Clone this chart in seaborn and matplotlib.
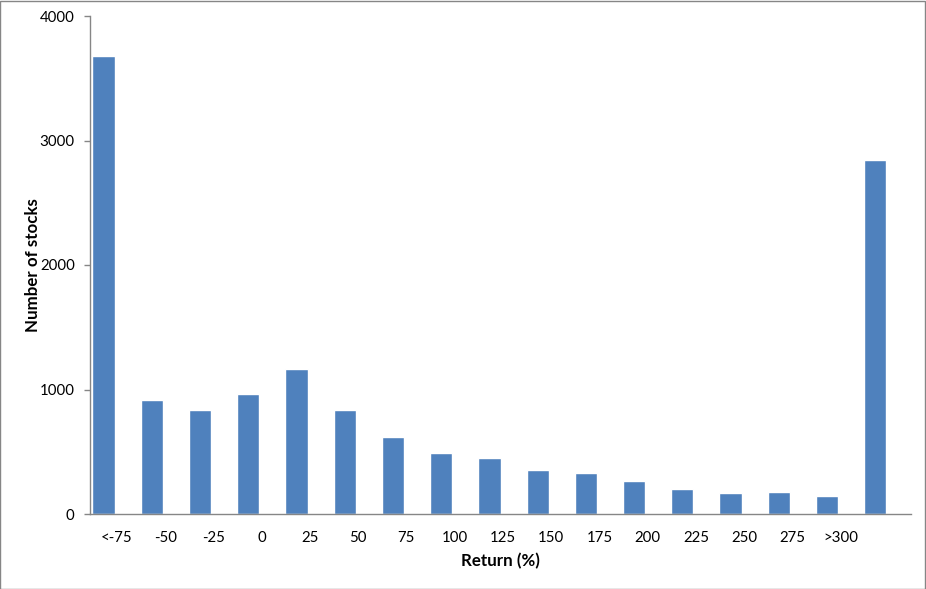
"""Histogram of stock returns, Excel-style column chart."""

import matplotlib

matplotlib.use("Agg")

import matplotlib.pyplot as plt
import numpy as np
import pandas as pd
import seaborn as sns
from matplotlib.patches import Rectangle

# return buckets (the last column has no label on the axis)
return_labels = ["<-75", "-50", "-25", "0", "25", "50", "75", "100", "125",
                 "150", "175", "200", "225", "250", "275", ">300"]
stock_counts = [3680, 915, 835, 965, 1165, 835, 618, 490, 450,
                353, 329, 265, 201, 169, 177, 145, 2845]

BAR_COLOR = "#4F81BD"
AXIS_COLOR = "#868686"

sns.set_theme(style="white")
plt.rcParams["font.family"] = ["Lato", "DejaVu Sans"]

data = pd.DataFrame({"bucket": np.arange(len(stock_counts)), "count": stock_counts})

fig = plt.figure(figsize=(9.26, 5.89), dpi=100)
ax = fig.add_axes([90 / 926, 75 / 589, 821 / 926, 498 / 589])

sns.barplot(data=data, x="bucket", y="count", color=BAR_COLOR, width=0.46,
            saturation=1, ax=ax)

ax.set_xlim(-0.28, len(stock_counts) - 0.26)
ax.set_ylim(0, 4000)
ax.set_yticks([0, 1000, 2000, 3000, 4000])
ax.set_xticks(np.arange(len(return_labels)) + 0.28)
ax.set_xticklabels(return_labels)

for side in ("top", "right"):
    ax.spines[side].set_visible(False)
for side in ("left", "bottom"):
    ax.spines[side].set_color(AXIS_COLOR)
    ax.spines[side].set_linewidth(1)

ax.tick_params(axis="y", left=True, length=4, width=1, color=AXIS_COLOR,
               pad=7, labelsize=10.8, labelcolor="black")
ax.tick_params(axis="x", bottom=False, length=0, pad=12, labelsize=10.8,
               labelcolor="black")

ax.set_xlabel("Return (%)", fontsize=12.2, fontweight="bold", color="black")
ax.set_ylabel("Number of stocks", fontsize=12.2, fontweight="bold", color="black")
ax.xaxis.set_label_coords(0.5, -0.079)
ax.yaxis.set_label_coords(-0.06, 0.5)
ax.grid(False)

# chart-area border
fig.add_artist(Rectangle((0.0005, 0.0008), 0.998, 0.998, transform=fig.transFigure,
                         fill=False, edgecolor=AXIS_COLOR, linewidth=1))

fig.savefig("out.png", dpi=100, facecolor="white")
